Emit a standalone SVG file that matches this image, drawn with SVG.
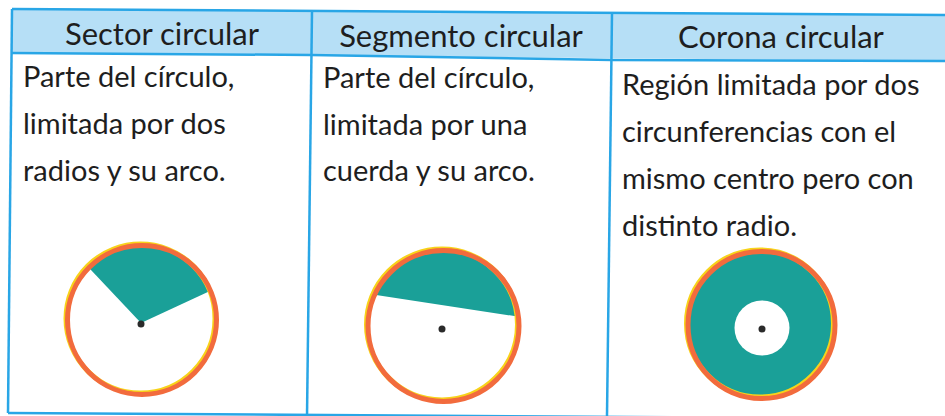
<svg xmlns="http://www.w3.org/2000/svg" width="945" height="416" viewBox="0 0 945 416">
  <style>
    .hdr { font-family: Lato, "Open Sans", sans-serif; font-size: 31px; fill: #1e1e1e; text-anchor: middle; }
    .body { font-family: Lato, "Open Sans", sans-serif; font-size: 29px; fill: #1e1e1e; }
    .border { stroke: #29a6e6; stroke-width: 2.5; fill: none; }
    .ringY { fill: none; stroke: #f7d31a; stroke-width: 5; }
    .ring { fill: none; stroke: #f26b3d; stroke-width: 5; }
    .teal { fill: #1aa098; }
    .dot { fill: #2a2a2a; }
  </style>
  <defs>
    <clipPath id="clip1"><circle cx="142" cy="320" r="74.5"/></clipPath>
    <clipPath id="clip2"><circle cx="443.5" cy="326" r="75.5"/></clipPath>
  </defs>
  <rect width="945" height="416" fill="#ffffff"/>
  <g id="table">
    <polygon points="12,9 945,15 945,61 12,53" fill="#b6dff6"/>
    <polyline class="border" points="12,9 945,15"/>
    <polyline class="border" points="12,53 311,55 612,60 945,61"/>
    <polyline class="border" points="12,9 8,413"/>
    <polyline class="border" points="312,11 307,416"/>
    <polyline class="border" points="612,13 607,416"/>
    <polyline class="border" points="8,413 945,419" stroke="#7fd3f2"/>
  </g>
  <g id="col-sector">
    <text class="hdr" x="162" y="45">Sector circular</text>
    <text class="body" x="23" y="87">Parte del círculo,</text>
    <text class="body" x="23" y="134">limitada por dos</text>
    <text class="body" x="23" y="181">radios y su arco.</text>
    <polygon class="teal" clip-path="url(#clip1)" points="141,323 -9,164 300,150 342,230"/>
    <circle class="ringY" cx="140.5" cy="318.5" r="74.5"/>
    <circle class="ring" cx="142" cy="320" r="74.5"/>
    <circle class="dot" cx="141" cy="324" r="3.5"/>
  </g>
  <g id="col-segment">
    <text class="hdr" x="461" y="47">Segmento circular</text>
    <text class="body" x="323" y="88">Parte del círculo,</text>
    <text class="body" x="323" y="135">limitada por una</text>
    <text class="body" x="323" y="181">cuerda y su arco.</text>
    <polygon class="teal" clip-path="url(#clip2)" points="350,290.9 550,321.5 550,200 350,200"/>
    <circle class="ringY" cx="442" cy="324.5" r="75.5"/>
    <circle class="ring" cx="443.5" cy="326" r="75.5"/>
    <circle class="dot" cx="442" cy="329" r="3.5"/>
  </g>
  <g id="col-corona">
    <text class="hdr" x="781" y="48">Corona circular</text>
    <text class="body" x="622" y="95">Región limitada por dos</text>
    <text class="body" x="622" y="142">circunferencias con el</text>
    <text class="body" x="622" y="189">mismo centro pero con</text>
    <text class="body" x="622" y="236">distinto radio.</text>
    <circle class="teal" cx="761.5" cy="325" r="74"/>
    <circle class="ringY" cx="760" cy="323.5" r="73.5"/>
    <circle class="ring" cx="761.5" cy="325" r="73.5"/>
    <circle cx="762" cy="328" r="27.5" fill="#ffffff"/>
    <circle class="dot" cx="762" cy="329" r="3.5"/>
  </g>
</svg>
